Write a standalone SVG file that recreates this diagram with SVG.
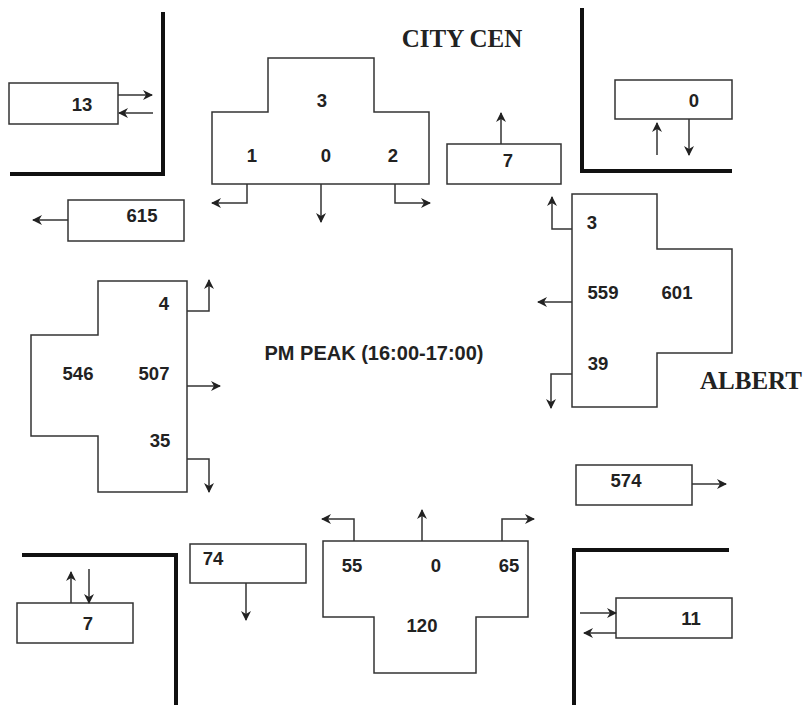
<svg xmlns="http://www.w3.org/2000/svg" width="805" height="705" viewBox="0 0 805 705">
<style>
.bx{fill:#fff;stroke:#333;stroke-width:1.5}
.kerb{fill:none;stroke:#111;stroke-width:4}
.ar{fill:none;stroke:#333;stroke-width:1.5;marker-end:url(#ah)}
.n{font-family:"Liberation Sans",Arial,sans-serif;font-weight:bold;font-size:18.5px;fill:#222;text-anchor:middle}
.t{font-family:"Liberation Serif","Times New Roman",serif;font-weight:bold;font-size:25px;fill:#222;text-anchor:middle}
.pm{font-family:"Liberation Sans",Arial,sans-serif;font-weight:bold;font-size:20px;fill:#222;text-anchor:middle}
</style>
<defs>
<marker id="ah" viewBox="0 0 10 10" refX="9" refY="5" markerWidth="10" markerHeight="10" markerUnits="userSpaceOnUse" orient="auto">
<path d="M0,0 L10,5 L0,10 L3,5 z" fill="#222"/>
</marker>
</defs>
<rect width="805" height="705" fill="#fff"/>
<g id="kerbs">
<path class="kerb" d="M163,12 V174 H10"/>
<path class="kerb" d="M582,8 V171 H732"/>
<path class="kerb" d="M22,555 H176 V705"/>
<path class="kerb" d="M729,550 H574 V705"/>
</g>
<g id="labels">
<text class="t" x="462" y="47">CITY CEN</text>
<text class="t" x="751" y="389">ALBERT</text>
<text class="pm" x="374" y="360">PM PEAK (16:00-17:00)</text>
</g>
<g id="node-north">
<path class="bx" d="M268,58 H374 V112 H429 V184 H212 V112 H268 Z"/>
<text class="n" x="322" y="107">3</text>
<text class="n" x="252" y="162">1</text>
<text class="n" x="326" y="162">0</text>
<text class="n" x="393" y="162">2</text>
</g>
<g id="node-west">
<path class="bx" d="M98,281 H187 V492 H98 V436 H31 V335 H98 Z"/>
<text class="n" x="164" y="310">4</text>
<text class="n" x="78" y="380">546</text>
<text class="n" x="154" y="380">507</text>
<text class="n" x="160" y="447">35</text>
</g>
<g id="node-east">
<path class="bx" d="M572,194 H657 V249 H732 V353 H657 V407 H572 Z"/>
<text class="n" x="592" y="229">3</text>
<text class="n" x="603" y="299">559</text>
<text class="n" x="677" y="299">601</text>
<text class="n" x="598" y="370">39</text>
</g>
<g id="node-south">
<path class="bx" d="M323,541 H528 V617 H476 V673 H374 V617 H323 Z"/>
<text class="n" x="352" y="572">55</text>
<text class="n" x="436" y="572">0</text>
<text class="n" x="509" y="572">65</text>
<text class="n" x="422" y="632">120</text>
</g>
<g id="box-13">
<rect class="bx" x="9" y="83" width="109" height="41"/>
<text class="n" x="82" y="111">13</text>
</g>
<g id="box-615">
<rect class="bx" x="68" y="200" width="116" height="41"/>
<text class="n" x="142" y="222">615</text>
</g>
<g id="box-7n">
<rect class="bx" x="447" y="144" width="114" height="40"/>
<text class="n" x="508" y="167">7</text>
</g>
<g id="box-0">
<rect class="bx" x="615" y="80" width="117" height="39"/>
<text class="n" x="694" y="107">0</text>
</g>
<g id="box-574">
<rect class="bx" x="576" y="465" width="116" height="40"/>
<text class="n" x="626" y="487">574</text>
</g>
<g id="box-11">
<rect class="bx" x="616" y="598" width="116" height="40"/>
<text class="n" x="691" y="625">11</text>
</g>
<g id="box-74">
<rect class="bx" x="190" y="544" width="116" height="39"/>
<text class="n" x="213" y="565">74</text>
</g>
<g id="box-7s">
<rect class="bx" x="17" y="603" width="116" height="40"/>
<text class="n" x="88" y="630">7</text>
</g>
<g id="connectors">
<path class="ar" d="M118,95 H152"/>
<path class="ar" d="M153,113 H119"/>
<path class="ar" d="M68,220 H33"/>
<path class="ar" d="M247,184 V203 H212"/>
<path class="ar" d="M321,184 V222"/>
<path class="ar" d="M395,184 V203 H430"/>
<path class="ar" d="M501,144 V113"/>
<path class="ar" d="M657,155 V123"/>
<path class="ar" d="M689,119 V155"/>
<path class="ar" d="M187,311 H209 V280"/>
<path class="ar" d="M187,386 H220"/>
<path class="ar" d="M187,459 H209 V492"/>
<path class="ar" d="M572,229 H552 V197"/>
<path class="ar" d="M572,302 H538"/>
<path class="ar" d="M572,374 H551 V408"/>
<path class="ar" d="M692,484 H726"/>
<path class="ar" d="M580,613 H616"/>
<path class="ar" d="M616,633 H584"/>
<path class="ar" d="M354,541 V519 H322"/>
<path class="ar" d="M422,541 V510"/>
<path class="ar" d="M502,541 V519 H534"/>
<path class="ar" d="M246,583 V620"/>
<path class="ar" d="M71,603 V572"/>
<path class="ar" d="M89,569 V603"/>
</g>
</svg>
